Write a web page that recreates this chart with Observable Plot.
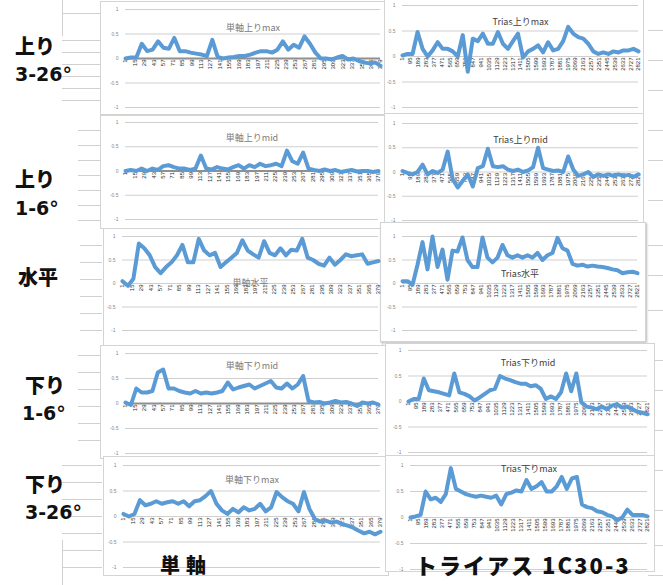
<!DOCTYPE html>
<html><head><meta charset="utf-8">
<script src="https://cdn.jsdelivr.net/npm/d3@7"></script>
<script src="https://cdn.jsdelivr.net/npm/@observablehq/plot@0.6"></script>
<style>
html,body{margin:0;padding:0;background:#fff}
#root{position:relative;width:663px;height:585px;overflow:hidden;background:#fff;font-family:"Noto Sans CJK JP","Noto Sans",sans-serif}
.frame{position:absolute;border:1px solid #d4d4d4;background:#fff}
.lbl{position:absolute;font-weight:900;color:#111;line-height:1;white-space:nowrap;font-family:"Noto Sans CJK JP",sans-serif}
.num{font-family:"DejaVu Sans",sans-serif;font-weight:bold}
.deco{position:absolute;background:#d0d0d0}
</style></head><body>
<div id="root"></div>
<script>
// ---- axis ticks ----
const yTicks = [-1, -0.5, 0, 0.5, 1];
const tanTicks = [1,15,29,43,57,71,85,99,113,127,141,155,169,183,197,211,225,239,253,267,281,295,309,323,337,351,365,379];
const triTicks = [1,95,189,283,377,471,565,659,753,847,941,1035,1129,1223,1317,1411,1505,1599,1693,1787,1881,1975,2069,2163,2257,2351,2445,2539,2633,2727,2821];

// ---- row / column labels ----
const rowLabels = [["上り","3-26°"],["上り","1-6°"],["水平"],["下り","1-6°"],["下り","3-26°"]];
const colLabels = ["単軸","トライアス 1C30-3"];
const titles = ["単軸上りmax","Trias上りmax","単軸上りmid","Trias上りmid","単軸水平","Trias水平","単軸下りmid","Trias下りmid","単軸下りmax","Trias下りmax"];

// ---- series ----
const tanUpMax = [0.0,0.02,0.02,0.3,0.15,0.18,0.35,0.22,0.2,0.42,0.15,0.15,0.12,0.1,0.08,0.05,0.38,0.03,0.0,0.02,0.03,0.05,0.05,0.08,0.12,0.15,0.15,0.12,0.18,0.35,0.18,0.28,0.22,0.45,0.3,0.12,0.0,0.0,-0.02,0.02,0.05,-0.02,0.0,-0.05,-0.08,-0.1,-0.08,-0.15];
const triUpMax = [0.02,0.05,0.05,0.48,0.15,0.0,0.12,0.28,0.15,0.15,0.1,0.0,0.42,-0.3,0.35,0.3,0.45,0.25,0.25,0.48,0.25,0.15,0.3,0.45,-0.02,0.1,0.15,0.22,0.08,0.28,0.12,0.15,0.3,0.58,0.45,0.38,0.35,0.25,0.1,0.05,0.08,0.05,0.1,0.08,0.12,0.12,0.15,0.1];
const tanUpMid = [0.0,0.02,0.0,0.05,0.0,0.05,0.02,0.1,0.12,0.08,0.05,0.05,0.02,0.05,0.32,0.05,0.03,0.08,0.05,0.03,0.08,0.12,0.05,0.12,0.08,0.15,0.1,0.12,0.15,0.1,0.42,0.2,0.15,0.38,0.05,0.02,0.0,0.03,0.0,0.02,-0.02,0.0,0.02,-0.01,0.0,0.0,-0.02,0.0];
const triUpMid = [0.02,-0.02,-0.05,0.0,0.15,-0.05,0.02,-0.02,0.05,0.42,-0.15,-0.32,-0.18,-0.05,-0.3,0.08,0.12,0.48,0.12,0.1,0.12,0.05,0.02,0.05,0.0,0.03,0.1,0.5,0.08,0.05,0.02,0.03,0.0,0.32,0.05,-0.08,-0.05,0.0,-0.1,-0.05,-0.08,-0.05,-0.08,-0.05,-0.08,-0.06,-0.1,-0.05];
const tanFlat = [0.05,-0.05,0.1,0.85,0.75,0.6,0.35,0.22,0.35,0.45,0.6,0.82,0.45,0.45,0.95,0.7,0.6,0.65,0.35,0.45,0.55,0.65,0.92,0.7,0.62,0.55,0.9,0.65,0.6,0.75,0.6,0.72,0.7,0.95,0.55,0.5,0.42,0.38,0.55,0.4,0.5,0.62,0.58,0.6,0.62,0.42,0.45,0.48];
const triFlat = [0.05,0.05,-0.03,0.4,0.88,0.3,1.0,0.35,0.72,0.08,0.7,0.68,0.98,0.5,0.35,0.35,0.98,0.55,0.45,0.55,0.82,0.6,0.55,0.6,0.55,0.6,0.55,0.65,0.5,0.6,0.65,0.97,0.75,0.7,0.42,0.38,0.4,0.36,0.38,0.36,0.35,0.33,0.3,0.28,0.22,0.24,0.25,0.22];
const tanDownMid = [0.02,-0.03,0.3,0.22,0.22,0.25,0.62,0.68,0.3,0.3,0.25,0.22,0.2,0.25,0.2,0.22,0.2,0.22,0.25,0.42,0.28,0.32,0.35,0.38,0.3,0.35,0.4,0.45,0.32,0.3,0.4,0.3,0.38,0.55,0.05,0.02,0.03,0.0,0.02,0.05,0.02,0.03,0.0,-0.05,0.02,0.0,0.02,-0.02];
const triDownMid = [0.0,0.05,0.05,0.45,0.22,0.2,0.18,0.15,0.12,0.55,0.18,0.15,0.1,0.02,0.08,0.15,0.22,0.25,0.5,0.45,0.42,0.38,0.35,0.35,0.3,0.32,0.25,0.05,0.1,0.05,0.18,0.55,0.2,0.55,-0.02,-0.1,-0.12,-0.15,-0.1,-0.15,-0.08,-0.05,-0.12,-0.1,-0.15,-0.2,-0.22,-0.25];
const tanDownMax = [0.05,0.0,0.05,0.32,0.22,0.25,0.3,0.25,0.28,0.3,0.25,0.3,0.2,0.3,0.32,0.4,0.5,0.25,0.12,0.05,0.15,0.08,0.18,0.12,0.15,0.25,0.1,0.18,0.48,0.38,0.3,0.25,0.1,0.48,0.15,-0.05,-0.1,-0.08,-0.12,-0.1,-0.15,-0.18,-0.22,-0.28,-0.33,-0.3,-0.35,-0.3];
const triDownMax = [0.0,0.02,0.05,0.5,0.35,0.38,0.3,0.45,0.95,0.55,0.5,0.45,0.42,0.4,0.42,0.4,0.38,0.42,0.25,0.45,0.48,0.52,0.5,0.72,0.55,0.6,0.68,0.5,0.5,0.6,0.78,0.55,0.75,0.78,0.25,0.2,0.18,0.12,0.1,0.05,0.02,-0.05,0.0,0.15,0.05,0.05,0.05,0.02];

const root = document.getElementById("root");

// light spreadsheet decoration lines
function deco(l,t,w,h){const d=document.createElement("div");d.className="deco";Object.assign(d.style,{left:l+"px",top:t+"px",width:w+"px",height:h+"px"});root.appendChild(d);}
[40,52,64,76,88,100].forEach(y=>deco(62,y,38,1));
deco(62,0,1,36); deco(62,13,38,1);
[130,145,160,175,190,205,220].forEach(y=>deco(78,y,22,1));
[245,262,279,296,313,330].forEach(y=>deco(80,y,22,1));
[355,372,389,406,423,440].forEach(y=>deco(78,y,22,1));
[465,482,499,516,533,550,567].forEach(y=>deco(62,y,40,1));
deco(62,540,1,45);
[30,60,90,130,160,200,245,275,310,360,390,430,470,510,545,575].forEach(y=>deco(648,y,15,1));

function frame(l,t,w,h,shadow){const d=document.createElement("div");d.className="frame";Object.assign(d.style,{left:l+"px",top:t+"px",width:w+"px",height:h+"px"});if(shadow)d.style.boxShadow="1px 1px 2px #bbb";root.appendChild(d);}
frame(100,1,286,112); frame(384,-2,258,115);
frame(100,115,286,112); frame(384,113,258,114);
frame(103,228,278,116); frame(380,222,264,118,true);
frame(100,345,286,112); frame(385,343,268,115);
frame(103,456,284,118); frame(385,455,268,115);

const panels = [
  {data:tanUpMax, N:379, ticks:tanTicks, x0:125, x1:380, yTop:9,   yBot:107, title:titles[0], ty:0.63, tf:"#7a7a7a", zero:true},
  {data:triUpMax, N:2821, ticks:triTicks, x0:402, x1:638, yTop:5,  yBot:107, title:titles[1], ty:0.68, tf:"#404040", zero:false},
  {data:tanUpMid, N:379, ticks:tanTicks, x0:125, x1:378, yTop:122, yBot:219, title:titles[2], ty:0.68, tf:"#7a7a7a", zero:true},
  {data:triUpMid, N:2821, ticks:triTicks, x0:402, x1:638, yTop:123, yBot:220, title:titles[3], ty:0.65, tf:"#404040", zero:false},
  {data:tanFlat, N:379, ticks:tanTicks, x0:122, x1:378, yTop:236, yBot:330, title:titles[4], ty:0.0, tf:"#8a7a70", zero:false},
  {data:triFlat, N:2821, ticks:triTicks, x0:402, x1:637, yTop:236, yBot:330, title:titles[5], ty:0.2, tf:"#404040", zero:false},
  {data:tanDownMid, N:379, ticks:tanTicks, x0:125, x1:378, yTop:353, yBot:453, title:titles[6], ty:0.75, tf:"#7a7a7a", zero:true},
  {data:triDownMid, N:2821, ticks:triTicks, x0:408, x1:647, yTop:350, yBot:452, title:titles[7], ty:0.75, tf:"#404040", zero:false},
  {data:tanDownMax, N:379, ticks:tanTicks, x0:123, x1:380, yTop:465, yBot:567, title:titles[8], ty:0.72, tf:"#7a7a7a", zero:false},
  {data:triDownMax, N:2821, ticks:triTicks, x0:410, x1:647, yTop:465, yBot:569, title:titles[9], ty:0.93, tf:"#404040", zero:false}
];

const ml = 24, mr = 2, mt = 3, mb = 3;
panels.forEach(p => {
  const n = p.data.length;
  const pts = p.data.map((v, i) => ({x: 1 + i * (p.N - 1) / (n - 1), y: v}));
  const chart = Plot.plot({
    width: p.x1 - p.x0 + ml + mr,
    height: p.yBot - p.yTop + mt + mb,
    marginLeft: ml, marginRight: mr, marginTop: mt, marginBottom: mb,
    x: {domain: [1, p.N], axis: null},
    y: {domain: [-1, 1], axis: null},
    style: {background: "transparent", overflow: "visible", fontFamily: "Liberation Sans, sans-serif"},
    marks: [
      Plot.ruleY(yTicks, {stroke: "#cfcfcf", strokeWidth: 1}),
      p.zero ? Plot.ruleY([0], {stroke: "#8f8f8f", strokeWidth: 2}) : null,
      Plot.text(yTicks, {x: 1, y: d => d, text: d => String(d), dx: -7, textAnchor: "end", fontSize: 5, fill: "#888"}),
      Plot.text(p.ticks, {x: d => d, y: 0, text: d => String(d), rotate: -90, textAnchor: "end", dy: 1, fontSize: 6, fill: "#2a2a2a"}),
      Plot.line(pts, {x: "x", y: "y", stroke: "#5b9bd5", strokeWidth: 4, strokeLinejoin: "round"}),
      Plot.text([p.title], {x: (1 + p.N) / 2, y: p.ty, text: d => d, fontSize: 9, fill: p.tf, fontFamily: "Noto Sans CJK JP, sans-serif"})
    ]
  });
  Object.assign(chart.style, {position: "absolute", left: (p.x0 - ml) + "px", top: (p.yTop - mt) + "px"});
  root.appendChild(chart);
});

// row labels: [left, top, fontSize] for each line
const rowPos = [
  [[15,36,20],[15,65,19]],
  [[15,169,20],[15,199,19]],
  [[18,267,20]],
  [[25,375,20],[22,404,19]],
  [[25,474,20],[25,503,19]]
];
rowLabels.forEach((lines, r) => {
  lines.forEach((t, k) => {
    const d = document.createElement("div");
    d.className = k === 0 ? "lbl" : "lbl num";
    d.textContent = t;
    d.style.left = rowPos[r][k][0] + "px";
    d.style.top = rowPos[r][k][1] + "px";
    d.style.fontSize = rowPos[r][k][2] + "px";
    root.appendChild(d);
  });
});
// column labels: [left, top, fontSize, letterSpacing]
const colPos = [[160,555,20,6],[415,553,22,2]];
colLabels.forEach((t, c) => {
  const d = document.createElement("div");
  d.className = "lbl";
  d.textContent = t;
  d.style.left = colPos[c][0] + "px";
  d.style.top = colPos[c][1] + "px";
  d.style.fontSize = colPos[c][2] + "px";
  d.style.letterSpacing = colPos[c][3] + "px";
  root.appendChild(d);
});
</script>
</body></html>
